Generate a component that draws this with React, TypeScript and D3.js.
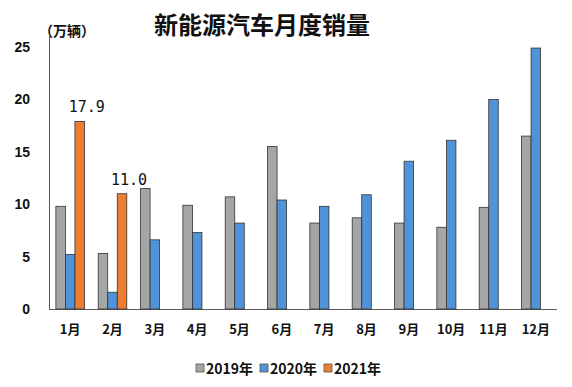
import React from "react";
import * as d3 from "d3";

const months = ["1月", "2月", "3月", "4月", "5月", "6月", "7月", "8月", "9月", "10月", "11月", "12月"];
const seriesNames = ["2019年", "2020年", "2021年"];
const sales2019 = [9.8, 5.3, 11.5, 9.9, 10.7, 15.5, 8.2, 8.7, 8.2, 7.8, 9.7, 16.5];
const sales2020 = [5.2, 1.6, 6.6, 7.3, 8.2, 10.4, 9.8, 10.9, 14.1, 16.1, 20.0, 24.9];
const sales2021 = [17.9, 11.0];
const yTicks = [0, 5, 10, 15, 20, 25];
const colors = ["#a5a5a5", "#5093d8", "#ed7d31"];

const W = 572;
const H = 387;

export default function App() {
  const x = d3.scaleBand<string>().domain(months).range([49, 557]);
  const x1 = d3.scaleBand<string>().domain(seriesNames).range([0, x.bandwidth()]).paddingOuter(0.72);
  const y = d3.scaleLinear().domain([0, 25]).range([309, 47]);
  const data = [sales2019, sales2020, sales2021];
  const font = "'Liberation Sans', Arial, sans-serif";

  return (
    <svg width={W} height={H} style={{ position: "absolute", left: 0, top: 0, background: "#fff" }}>
      <rect width={W} height={H} fill="#fff" />
      <text x={262} y={34} textAnchor="middle" fontSize={24} fontWeight="bold" fontFamily="'Noto Sans CJK SC', sans-serif" fill="#111">新能源汽车月度销量</text>
      <text x={67} y={36} textAnchor="middle" fontSize={14} fontWeight="bold" fontFamily="'Noto Sans CJK SC', sans-serif" fill="#111">（万辆）</text>
      {yTicks.map((t) => (
        <text key={t} x={30} y={y(t) + 5} textAnchor="end" fontSize={14} fontWeight="bold" fontFamily={font} fill="#111">{t}</text>
      ))}
      <line x1={49.5} x2={49.5} y1={34} y2={309} stroke="#595959" strokeWidth={1} />
      <line x1={49} x2={557} y1={309.5} y2={309.5} stroke="#595959" strokeWidth={1} />
      {data.map((vals, si) =>
        vals.map((v, i) => (
          <rect
            key={si + "-" + i}
            x={(x(months[i]) as number) + (x1(seriesNames[si]) as number)}
            y={y(v)}
            width={x1.bandwidth()}
            height={y(0) - y(v)}
            fill={colors[si]}
            stroke="#333"
            strokeWidth={0.8}
          />
        ))
      )}
      {sales2021.map((v, i) => (
        <text
          key={"lbl" + i}
          x={(x(months[i]) as number) + (x1(seriesNames[2]) as number) + x1.bandwidth() / 2 + 7}
          y={y(v) - 9}
          textAnchor="middle"
          fontSize={15}
          fontFamily="'DejaVu Sans Mono', monospace"
          fill="#111"
        >{v.toFixed(1)}</text>
      ))}
      {months.map((m) => (
        <text key={m} x={(x(m) as number) + x.bandwidth() / 2} y={334} textAnchor="middle" fontSize={13} fontWeight="bold" fontFamily="'Noto Sans CJK SC', sans-serif" fill="#111">{m}</text>
      ))}
      {seriesNames.map((s, i) => {
        const lx = [196, 260, 324][i];
        return (
          <g key={s}>
            <rect x={lx} y={364} width={8} height={8} fill={colors[i]} stroke="#555" strokeWidth={0.8} />
            <text x={lx + 10} y={374} fontSize={14} fontWeight="bold" fontFamily="'Noto Sans CJK SC', sans-serif" fill="#111">{s}</text>
          </g>
        );
      })}
    </svg>
  );
}
